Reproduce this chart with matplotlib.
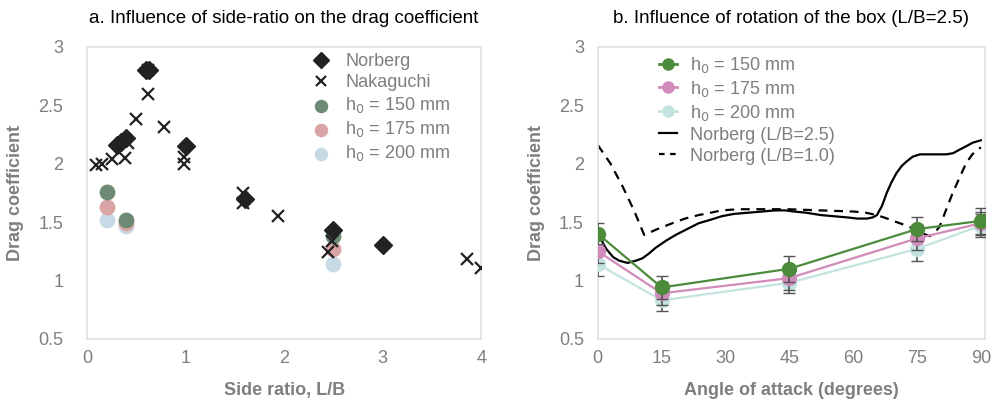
import matplotlib
matplotlib.use("Agg")
import matplotlib.pyplot as plt
from matplotlib.lines import Line2D

plt.rcParams['font.family'] = ['Liberation Sans', 'DejaVu Sans']

# ---- Panel a data ----
norberg_x = [0.30, 0.35, 0.40, 0.60, 0.63, 1.00, 1.60, 2.50, 3.00]
norberg_y = [2.16, 2.19, 2.22, 2.80, 2.80, 2.15, 1.70, 1.43, 1.30]
naka_x = [0.09, 0.15, 0.25, 0.39, 0.42, 0.50, 0.62, 0.62, 0.78, 0.98, 0.98, 1.58, 1.58, 1.94, 2.49, 2.45, 3.86, 4.00]
naka_y = [1.99, 2.00, 2.04, 2.05, 2.18, 2.38, 2.60, 2.80, 2.31, 2.06, 2.00, 1.75, 1.66, 1.55, 1.34, 1.24, 1.18, 1.11]
h_ratio = [0.20, 0.40, 2.50]
h150_a = [1.76, 1.52, 1.38]
h175_a = [1.63, 1.49, 1.27]
h200_a = [1.52, 1.47, 1.14]

# ---- Panel b data ----
angles = [0, 15, 45, 75, 90]
h150_b = [1.40, 0.94, 1.10, 1.44, 1.51]
h175_b = [1.25, 0.89, 1.02, 1.36, 1.49]
h200_b = [1.14, 0.83, 0.98, 1.27, 1.47]
err150 = [0.09, 0.10, 0.11, 0.10, 0.11]
err175 = [0.10, 0.10, 0.10, 0.10, 0.10]
err200 = [0.10, 0.09, 0.09, 0.10, 0.10]

nb25_ang = [0, 2, 3.6, 5, 7, 9, 10.5, 12, 13.6, 16, 18.3, 21, 23.7, 26.5, 29.1, 32, 35.3, 38.5, 41.6, 44, 46.2, 49, 52.4, 55.5, 58.6, 61, 63.3, 64.6, 65.6, 66.8, 67.9, 69, 70.2, 71.4, 72.6, 74, 75.7, 77.3, 78.8, 80.3, 81.9, 83.5, 85.0, 86.6, 88.1, 90]
nb25_cd = [1.40, 1.27, 1.20, 1.17, 1.15, 1.17, 1.19, 1.23, 1.28, 1.34, 1.39, 1.44, 1.49, 1.52, 1.55, 1.57, 1.58, 1.59, 1.60, 1.60, 1.59, 1.58, 1.56, 1.55, 1.54, 1.53, 1.53, 1.54, 1.56, 1.64, 1.75, 1.84, 1.92, 1.98, 2.02, 2.06, 2.08, 2.08, 2.08, 2.08, 2.08, 2.09, 2.12, 2.15, 2.18, 2.20]
nb10_ang = [0, 3, 5.9, 8.5, 10.9, 14, 17.5, 20.5, 23.7, 26.5, 29.1, 33, 36.9, 44.6, 52.4, 60.2, 63, 65.6, 68, 70.2, 72.5, 74.9, 76.5, 78.0, 79.2, 80.3, 81.8, 83.4, 85, 86.5, 88, 90]
nb10_cd = [2.16, 2.00, 1.80, 1.60, 1.39, 1.44, 1.49, 1.53, 1.56, 1.58, 1.60, 1.61, 1.61, 1.61, 1.60, 1.59, 1.58, 1.56, 1.53, 1.50, 1.47, 1.43, 1.40, 1.38, 1.41, 1.46, 1.60, 1.75, 1.88, 2.00, 2.08, 2.14]

gray = '#7f7f7f'
spine = '#e0e0e0'
FS = 13

fig = plt.figure(figsize=(9.93, 4.01), dpi=100)
ax1 = fig.add_axes([0.0876, 0.155, 0.397, 0.728])
ax2 = fig.add_axes([0.602, 0.155, 0.390, 0.728])

# Panel a
ax1.scatter(h_ratio, h150_a, s=130, color='#6e8a74', label='h$_0$ = 150 mm', zorder=2, linewidths=0)
ax1.scatter(h_ratio, h175_a, s=130, color='#d8a4a4', label='h$_0$ = 175 mm', zorder=1.9, linewidths=0)
ax1.scatter(h_ratio, h200_a, s=130, color='#c8d9e6', label='h$_0$ = 200 mm', zorder=1.8, linewidths=0)
ax1.plot(norberg_x, norberg_y, 'D', color='#222222', markersize=9, linestyle='none', label='Norberg', zorder=3)
ax1.plot(naka_x, naka_y, 'x', color='#222222', markersize=9, markeredgewidth=1.6, linestyle='none', label='Nakaguchi', zorder=3)
ax1.set_xlim(0, 4)
ax1.set_ylim(0.5, 3)
ax1.set_xticks([0, 1, 2, 3, 4])
ax1.set_yticks([0.5, 1, 1.5, 2, 2.5, 3])
ax1.set_yticklabels(['0.5', '1', '1.5', '2', '2.5', '3'])
ax1.set_title('a. Influence of side-ratio on the drag coefficient', fontsize=13.5, pad=17)
ax1.set_xlabel('Side ratio, L/B', fontsize=FS, fontweight='bold', color=gray, labelpad=11)
ax1.set_ylabel('Drag coefficient', fontsize=FS, fontweight='bold', color=gray, labelpad=10)
h, l = ax1.get_legend_handles_labels()
order = [3, 4, 0, 1, 2]
ax1.legend([h[i] for i in order], [l[i] for i in order], loc='upper left',
           bbox_to_anchor=(0.52, 1.015), frameon=False, fontsize=FS, labelcolor=gray,
           handletextpad=0.35, labelspacing=0.22, borderaxespad=0.2, markerscale=0.85)

# Panel b
ax2.plot(nb25_ang, nb25_cd, '-', color='black', lw=1.6, zorder=2)
ax2.plot(nb10_ang, nb10_cd, '--', color='black', lw=1.6, dashes=(4, 3), zorder=2)
ax2.errorbar(angles, h200_b, yerr=err200, color='#c3e3e0', marker='o', markersize=10, lw=1.6,
             ecolor='#555555', elinewidth=1.2, capsize=4, zorder=3)
ax2.errorbar(angles, h175_b, yerr=err175, color='#d18bba', marker='o', markersize=10, lw=1.6,
             ecolor='#555555', elinewidth=1.2, capsize=4, zorder=4)
ax2.errorbar(angles, h150_b, yerr=err150, color='#4b8b3b', marker='o', markersize=10, lw=1.6,
             ecolor='#555555', elinewidth=1.2, capsize=4, zorder=5)
ax2.set_xlim(0, 91)
ax2.set_ylim(0.5, 3)
ax2.set_xticks([0, 15, 30, 45, 60, 75, 90])
ax2.set_yticks([0.5, 1, 1.5, 2, 2.5, 3])
ax2.set_yticklabels(['0.5', '1', '1.5', '2', '2.5', '3'])
ax2.set_title('b. Influence of rotation of the box (L/B=2.5)', fontsize=13.5, pad=17)
ax2.set_xlabel('Angle of attack (degrees)', fontsize=FS, fontweight='bold', color=gray, labelpad=11)
ax2.set_ylabel('Drag coefficient', fontsize=FS, fontweight='bold', color=gray, labelpad=10)
hh = [Line2D([], [], color='#4b8b3b', marker='o', markersize=8, lw=2),
      Line2D([], [], color='#d18bba', marker='o', markersize=8, lw=2),
      Line2D([], [], color='#c3e3e0', marker='o', markersize=8, lw=2),
      Line2D([], [], color='black', lw=1.6),
      Line2D([], [], color='black', lw=1.6, ls='--', dashes=(2.5, 2.5))]
ll = ['h$_0$ = 150 mm', 'h$_0$ = 175 mm', 'h$_0$ = 200 mm', 'Norberg (L/B=2.5)', 'Norberg (L/B=1.0)']
ax2.legend(hh, ll, loc='upper left', bbox_to_anchor=(0.13, 1.01), frameon=False, fontsize=FS,
           labelcolor=gray, handlelength=1.0, handletextpad=0.7, labelspacing=0.22, borderaxespad=0.2)

for ax in (ax1, ax2):
    for s in ax.spines.values():
        s.set_color(spine)
        s.set_linewidth(1.2)
    ax.tick_params(length=0, colors=gray, labelsize=FS)
ax1.tick_params(axis='y', pad=17)
ax2.tick_params(axis='y', pad=10)
ax1.tick_params(axis='x', pad=8)
ax2.tick_params(axis='x', pad=8)

fig.savefig('out.png', dpi=100)
